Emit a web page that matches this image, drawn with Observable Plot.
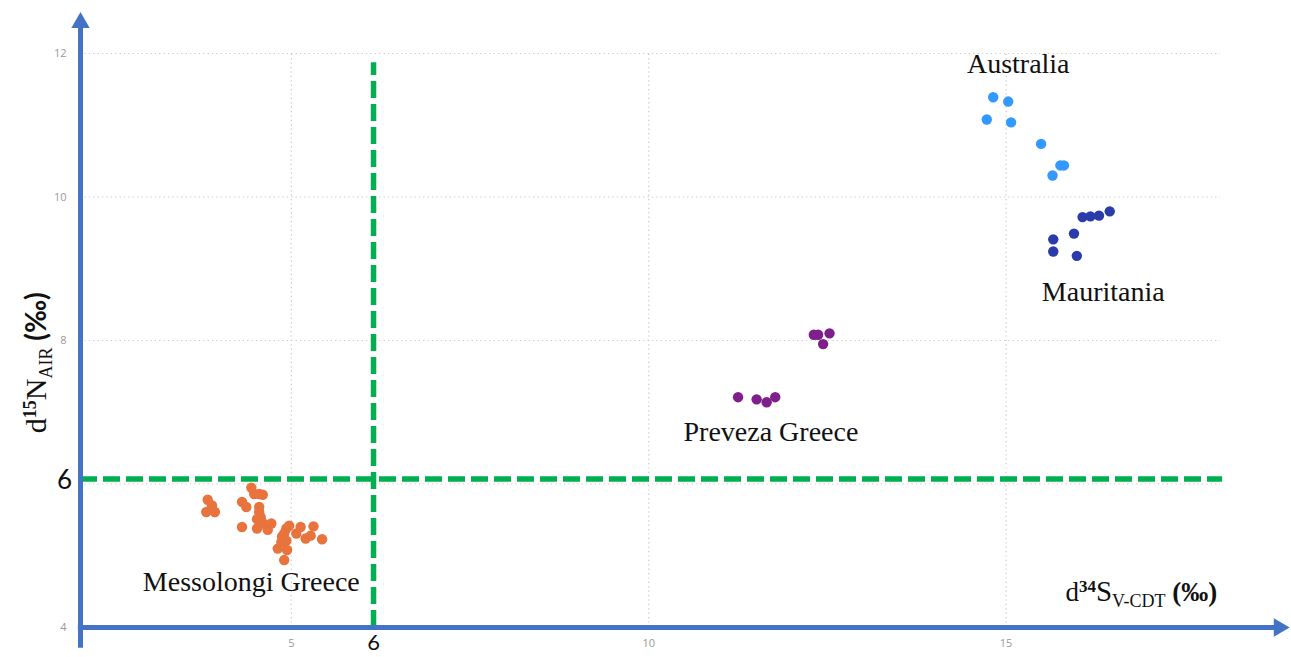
<!DOCTYPE html>
<html><head><meta charset="utf-8">
<script src="https://cdn.jsdelivr.net/npm/d3@7"></script>
<script src="https://cdn.jsdelivr.net/npm/@observablehq/plot@0.6"></script>
<style>html,body{margin:0;padding:0;background:#fff}#chart svg{display:block}</style>
</head><body><div id="chart"></div>
<script>
// ---- data ----
const groups = ["Messolongi Greece", "Preveza Greece", "Australia", "Mauritania"];
const groupColors = ["#E8733C", "#7E1F8C", "#3399FF", "#2B3CAA"];

const messolongiS = [3.83,3.89,3.81,3.93,4.44,4.48,4.55,4.60,4.31,4.37,4.55,4.55,4.57,4.52,4.59,4.72,4.65,4.31,4.52,4.67,4.97,4.93,4.90,4.87,4.93,4.81,4.94,4.90,5.07,5.13,5.20,5.27,5.31,5.43,4.86];
const messolongiN = [5.78,5.70,5.61,5.61,5.95,5.86,5.86,5.85,5.75,5.68,5.68,5.61,5.54,5.51,5.47,5.45,5.42,5.40,5.38,5.36,5.42,5.38,5.31,5.27,5.21,5.10,5.08,4.94,5.31,5.40,5.24,5.28,5.41,5.23,5.19];
const prevezaS = [12.31,12.37,12.53,12.44,11.25,11.51,11.65,11.77];
const prevezaN = [8.08,8.08,8.10,7.95,7.21,7.18,7.14,7.21];
const australiaS = [14.82,15.03,14.73,15.07,15.49,15.81,15.76,15.65];
const australiaN = [11.39,11.33,11.08,11.04,10.74,10.44,10.44,10.30];
const mauritaniaS = [16.07,16.18,16.30,16.45,15.95,15.66,15.66,15.99];
const mauritaniaN = [9.72,9.73,9.74,9.80,9.49,9.41,9.24,9.18];

const labelS = [4.44, 11.71, 15.17, 16.36];
const labelN = [4.63, 6.72, 11.85, 8.68];

const xTicks = [5, 10, 15];
const yTicks = [4, 8, 10, 12];
const yGrid = [6, 8, 10, 12];
const thresholdS = 6.15;   // vertical dashed line (labelled 6)
const thresholdN = 6.07;   // horizontal dashed line (labelled 6)
const thresholdLabel = "6";

// ---- build table ----
const seriesS = [messolongiS, prevezaS, australiaS, mauritaniaS];
const seriesN = [messolongiN, prevezaN, australiaN, mauritaniaN];
const points = [];
groups.forEach((g, i) => seriesS[i].forEach((s, j) => points.push({group: g, s, n: seriesN[i][j]})));
const labels = groups.map((g, i) => ({group: g, s: labelS[i], n: labelN[i]}));

const xDomain = [2.05, 18];
const yDomain = [4, 12];
const axisBlue = "#4472C4";
const green = "#00B050";

const chart = Plot.plot({
  width: 1291, height: 657,
  marginLeft: 80, marginRight: 71, marginTop: 53, marginBottom: 30,
  x: {domain: xDomain},
  y: {domain: yDomain},
  color: {domain: groups, range: groupColors},
  style: {fontFamily: "'Open Sans', sans-serif", background: "#fff"},
  marks: [
    Plot.ruleX(xTicks, {y1: yDomain[0], y2: yDomain[1], stroke: "#c8c8c8", strokeDasharray: "1.2,3.2", strokeWidth: 1.2}),
    Plot.ruleY(yGrid, {x1: xDomain[0], x2: xDomain[1], stroke: "#c8c8c8", strokeDasharray: "1.2,3.2", strokeWidth: 1.2}),
    Plot.axisX(xTicks, {tickSize: 0, tickPadding: 12, fill: "#999", fontSize: 11, label: null, tickFormat: d => String(d)}),
    Plot.axisY(yTicks, {tickSize: 0, tickPadding: 14, fill: "#999", fontSize: 11, label: null, tickFormat: d => String(d)}),
    Plot.dot(points, {x: "s", y: "n", fill: "group", r: 5.2}),
    Plot.ruleX([thresholdS], {y1: yDomain[0], y2: 11.87, stroke: green, strokeWidth: 5.5, strokeDasharray: "17,6"}),
    Plot.ruleY([thresholdN], {x1: xDomain[0], x2: 18.03, stroke: green, strokeWidth: 5.5, strokeDasharray: "17,6"}),
    // axis lines with arrow heads
    Plot.ruleY([yDomain[0]], {x1: 2.02, x2: 18.80, stroke: axisBlue, strokeWidth: 5}),
    Plot.ruleX([xDomain[0]], {y1: 3.71, y2: 12.38, stroke: axisBlue, strokeWidth: 5}),
    Plot.dot([{s: 18.82, n: yDomain[0]}], {x: "s", y: "n", symbol: "triangle", fill: axisBlue, stroke: "none", r: 6.8, rotate: 90}),
    Plot.dot([{s: xDomain[0], n: 12.43}], {x: "s", y: "n", symbol: "triangle", fill: axisBlue, stroke: "none", r: 6.8}),
    // group labels
    Plot.text(labels, {x: "s", y: "n", text: "group", fontFamily: "'Liberation Serif', serif", fontSize: 28, fill: "#111"}),
    // big "6" annotations
    Plot.text([thresholdS], {x: d => d, y: yDomain[0], text: () => thresholdLabel, dy: 15, fontFamily: "Lato, sans-serif", fontSize: 22, fill: "#111"}),
    Plot.text([thresholdN], {x: xDomain[0], y: d => d, text: () => thresholdLabel, dx: -16, dy: 2, fontFamily: "Lato, sans-serif", fontSize: 26, fill: "#111"}),
    // axis titles (content rebuilt with tspans below)
    Plot.text([{s: 15.83, n: 4.42}], {x: "s", y: "n", text: () => "d34SV-CDT (‰)", textAnchor: "start", className: "xtitle", fill: "#111"}),
    Plot.text([{s: 1.52, n: 7.69}], {x: "s", y: "n", text: () => "d15NAIR (‰)", rotate: -90, className: "ytitle", fill: "#111"})
  ]
});
document.getElementById("chart").appendChild(chart);

function build(sel, parts) {
  const t = d3.select(chart).select(sel).select("text");
  t.text(null).attr("font-size", null);
  let shift = 0;
  for (const p of parts) {
    const ts = t.append("tspan").text(p.t)
      .attr("font-family", p.f || "'Liberation Serif', serif")
      .attr("font-size", p.s);
    if (p.w) ts.attr("font-weight", p.w);
    const target = p.d || 0;
    if (target !== shift) { ts.attr("dy", target - shift); shift = target; }
  }
}
build(".xtitle", [
  {t: "d", s: 27},
  {t: "34", s: 17, d: -9, w: "bold"},
  {t: "S", s: 29, d: 0},
  {t: "V-CDT", s: 18, d: 6},
  {t: " (‰)", s: 27, d: 0, w: "bold"}
]);
build(".ytitle", [
  {t: "d", s: 30},
  {t: "15", s: 18, d: -10, w: "bold"},
  {t: "N", s: 30, d: 0},
  {t: "AIR", s: 18, d: 6},
  {t: " (‰)", s: 28, d: 0, w: "bold", f: "Lato, sans-serif"}
]);
</script>
</body></html>
